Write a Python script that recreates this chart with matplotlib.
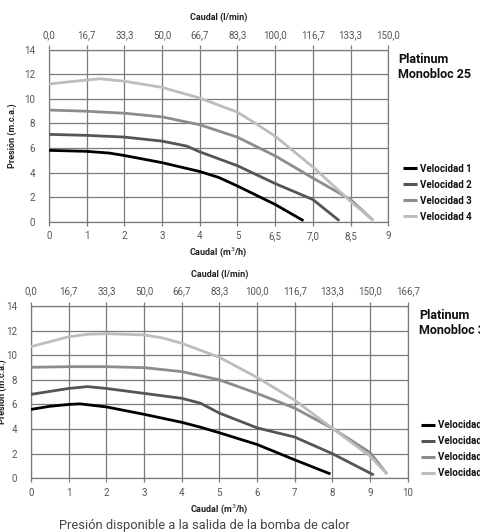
import matplotlib
matplotlib.use('Agg')
import matplotlib.pyplot as plt

plt.rcParams['font.family'] = ['Roboto', 'DejaVu Sans']

# ---------------- Platinum Monobloc 25 ----------------
top_q_mh = ['0', '1', '2', '3', '4', '5', '6,5', '7,0', '8,5', '9']
top_q_lmin = ['0,0', '16,7', '33,3', '50,0', '66,7', '83,3', '100,0', '116,7', '133,3', '150,0']

top_v1_x = [0, 1, 1.6, 2, 3, 4, 4.5, 5, 5.5, 6, 6.75]
top_v1_y = [5.8, 5.72, 5.58, 5.38, 4.8, 4.08, 3.6, 2.9, 2.15, 1.4, 0.08]
top_v2_x = [0, 1, 2, 3, 3.65, 4, 5, 6, 7, 7.7]
top_v2_y = [7.1, 7.02, 6.88, 6.55, 6.15, 5.68, 4.55, 3.1, 1.8, 0.08]
top_v3_x = [0, 1, 2, 3, 4, 5, 6, 7, 8, 8.6]
top_v3_y = [9.08, 8.98, 8.82, 8.52, 7.88, 6.87, 5.35, 3.55, 1.8, 0.1]
top_v4_x = [0, 1, 1.35, 2, 3, 4, 5, 5.5, 6, 7, 8, 8.6]
top_v4_y = [11.2, 11.52, 11.62, 11.42, 10.92, 10.05, 8.9, 7.95, 6.95, 4.45, 1.65, 0.1]

# ---------------- Platinum Monobloc 3x ----------------
bot_q_mh = ['0', '1', '2', '3', '4', '5', '6', '7', '8', '9', '10']
bot_q_lmin = ['0,0', '16,7', '33,3', '50,0', '66,7', '83,3', '100,0', '116,7', '133,3', '150,0', '166,7']

bot_v1_x = [0, 0.5, 1, 1.3, 2, 3, 4, 4.5, 5, 6, 7, 7.95]
bot_v1_y = [5.6, 5.85, 6.0, 6.05, 5.8, 5.2, 4.55, 4.15, 3.7, 2.75, 1.5, 0.35]
bot_v2_x = [0, 1, 1.5, 2, 3, 4, 4.5, 5, 6, 7, 8, 9.1]
bot_v2_y = [6.82, 7.3, 7.45, 7.3, 6.9, 6.5, 6.1, 5.3, 4.1, 3.35, 2.0, 0.27]
bot_v3_x = [0, 1, 2, 3, 4, 5, 6, 7, 8, 9, 9.45]
bot_v3_y = [9.02, 9.07, 9.07, 8.99, 8.67, 8.0, 6.9, 5.7, 4.06, 2.1, 0.35]
bot_v4_x = [0, 1, 1.5, 2, 3, 3.5, 4, 5, 6, 7, 8, 9, 9.45]
bot_v4_y = [10.7, 11.5, 11.7, 11.75, 11.65, 11.4, 10.97, 9.83, 8.2, 6.35, 4.06, 1.8, 0.35]

y_ticks = [0, 2, 4, 6, 8, 10, 12, 14]
speed_names = ['Velocidad 1', 'Velocidad 2', 'Velocidad 3', 'Velocidad 4']
speed_colors = ['#000000', '#555555', '#8c8c8c', '#bdbdbd']

GRID = '#7a7a7a'
TXT = '#555555'

W, H = 480, 532
fig = plt.figure(figsize=(4.8, 5.32), dpi=100)


def px_box(x0, y0, x1, y1):
    # pixel box -> figure fraction [left, bottom, width, height]
    return [x0 / W, 1 - y1 / H, (x1 - x0) / W, (y1 - y0) / H]


def draw_panel(box, xs, ys, mh_labels, lmin_labels, title, leg_anchor, ylab_x):
    ax = fig.add_axes(box)
    n = len(mh_labels) - 1
    for x, y, c, name in zip(xs, ys, speed_colors, speed_names):
        ax.plot(x, y, color=c, lw=2.0, solid_capstyle='butt', solid_joinstyle='round',
                label=name, zorder=3)
    ax.set_xlim(0, n)
    ax.set_ylim(0, 14)
    ax.set_xticks(range(n + 1))
    ax.set_xticklabels(mh_labels)
    ax.set_yticks(y_ticks)
    ax.grid(True, color=GRID, lw=0.9)
    for s in ax.spines.values():
        s.set_color(GRID)
        s.set_linewidth(0.9)
    ax.tick_params(axis='x', length=3, width=0.9, color=GRID, pad=4,
                   labelsize=7, labelcolor=TXT)
    ax.tick_params(axis='y', length=0, pad=10, labelsize=7, labelcolor=TXT)
    ax.set_xlabel('Caudal (m$^3$/h)', fontsize=6.5, fontweight='bold', color='#222222', labelpad=3)
    ax.set_ylabel('Presión (m.c.a.)', fontsize=6.5, fontweight='bold', color='#222222')
    ax.yaxis.set_label_coords(ylab_x, 0.5)

    top = ax.secondary_xaxis('top')
    top.set_xticks(range(n + 1))
    top.set_xticklabels(lmin_labels)
    top.tick_params(length=3, width=0.9, color=GRID, pad=4, labelsize=7, labelcolor=TXT)
    top.spines['top'].set_visible(False)
    top.set_xlabel('Caudal (l/min)', fontsize=6.5, fontweight='bold', color='#222222', labelpad=7)

    ax.text(1.03, 0.98, title, transform=ax.transAxes, ha='left', va='top',
            fontsize=9, fontweight='bold', color='#111111', linespacing=1.2,
            clip_on=False)
    leg = ax.legend(loc='lower left', bbox_to_anchor=leg_anchor, frameon=False,
                    fontsize=7, handlelength=1.4, handletextpad=0.35,
                    labelspacing=0.62, borderpad=0, borderaxespad=0)
    for t in leg.get_texts():
        t.set_fontweight('bold')
        t.set_color('#111111')
    for l in leg.get_lines():
        l.set_linewidth(2.2)
    return ax


draw_panel(px_box(49, 49.5, 388.3, 221.7),
           [top_v1_x, top_v2_x, top_v3_x, top_v4_x],
           [top_v1_y, top_v2_y, top_v3_y, top_v4_y],
           top_q_mh, top_q_lmin, 'Platinum\nMonobloc 25', (1.043, 0.0), -0.093)

draw_panel(px_box(31, 306, 407.7, 478.3),
           [bot_v1_x, bot_v2_x, bot_v3_x, bot_v4_x],
           [bot_v1_y, bot_v2_y, bot_v3_y, bot_v4_y],
           bot_q_mh, bot_q_lmin, 'Platinum\nMonobloc 35', (1.036, 0.0), -0.065)

fig.text(204 / W, 1 - 526 / H, 'Presión disponible a la salida de la bomba de calor',
         ha='center', va='center', fontsize=9.3, color='#444444')

fig.savefig('out.png', dpi=100)
